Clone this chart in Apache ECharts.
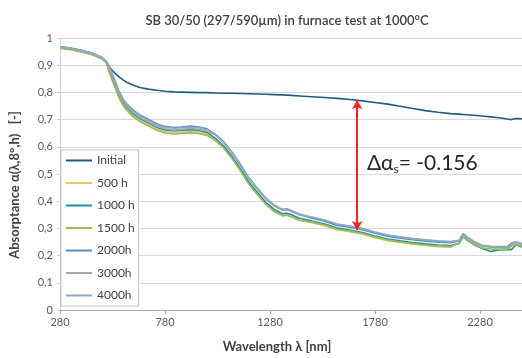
<!DOCTYPE html>
<html>
<head>
<meta charset="utf-8">
<script src="https://cdn.jsdelivr.net/npm/echarts@6/dist/echarts.min.js"></script>
<style>
  html, body { margin: 0; padding: 0; background: #fff; }
  #chart { width: 522px; height: 358px; }
</style>
</head>
<body>
<div id="chart"></div>
<script>
// wavelength [nm]
const wavelengths = [280, 330, 380, 430, 480, 500, 520, 540, 560, 580, 600, 630, 660, 700, 740, 780, 820, 860, 900, 940, 980,
  1020, 1060, 1100, 1140, 1180, 1220, 1260, 1300, 1340, 1360, 1380, 1420,
  1480, 1540, 1600, 1660, 1720, 1780, 1840, 1900, 1960, 2020, 2080, 2140,
  2180, 2200, 2220, 2250, 2290, 2330, 2370, 2410, 2430, 2450, 2480];

const initial = [0.968, 0.962, 0.955, 0.945, 0.928, 0.914, 0.888, 0.872, 0.858, 0.846, 0.836, 0.826, 0.818, 0.812, 0.808, 0.804, 0.802, 0.801, 0.800, 0.799, 0.799,
  0.798, 0.797, 0.797, 0.796, 0.795, 0.794, 0.793, 0.792, 0.791, 0.790, 0.789, 0.787,
  0.784, 0.781, 0.778, 0.774, 0.769, 0.763, 0.757, 0.749, 0.741, 0.733, 0.727, 0.722,
  0.720, 0.719, 0.718, 0.716, 0.713, 0.710, 0.707, 0.702, 0.700, 0.704, 0.703];

const h500 = [0.963, 0.958, 0.950, 0.940, 0.924, 0.910, 0.866, 0.826, 0.786, 0.756, 0.736, 0.714, 0.697, 0.681, 0.665, 0.655, 0.651, 0.653, 0.656, 0.653, 0.646,
  0.625, 0.597, 0.558, 0.513, 0.464, 0.426, 0.390, 0.364, 0.348, 0.350, 0.345, 0.331,
  0.321, 0.310, 0.295, 0.288, 0.279, 0.266, 0.255, 0.248, 0.242, 0.237, 0.233, 0.231,
  0.247, 0.272, 0.259, 0.244, 0.229, 0.225, 0.224, 0.225, 0.237, 0.242, 0.235];

const h1000 = [0.965, 0.960, 0.952, 0.942, 0.926, 0.912, 0.873, 0.833, 0.793, 0.763, 0.743, 0.721, 0.704, 0.688, 0.672, 0.662, 0.658, 0.660, 0.663, 0.660, 0.653,
  0.631, 0.603, 0.564, 0.519, 0.470, 0.432, 0.396, 0.370, 0.354, 0.356, 0.351, 0.337,
  0.327, 0.316, 0.301, 0.294, 0.285, 0.272, 0.261, 0.254, 0.248, 0.243, 0.239, 0.237,
  0.244, 0.269, 0.256, 0.241, 0.226, 0.215, 0.221, 0.222, 0.222, 0.239, 0.232];

const h1500 = [0.962, 0.957, 0.949, 0.939, 0.923, 0.909, 0.862, 0.822, 0.782, 0.752, 0.732, 0.710, 0.693, 0.677, 0.661, 0.651, 0.647, 0.649, 0.652, 0.649, 0.642,
  0.623, 0.595, 0.556, 0.511, 0.462, 0.424, 0.388, 0.362, 0.346, 0.348, 0.343, 0.329,
  0.323, 0.312, 0.297, 0.290, 0.281, 0.268, 0.257, 0.250, 0.244, 0.239, 0.235, 0.233,
  0.246, 0.271, 0.258, 0.243, 0.228, 0.224, 0.223, 0.224, 0.236, 0.241, 0.234];

const h2000 = [0.967, 0.962, 0.954, 0.944, 0.928, 0.914, 0.886, 0.846, 0.806, 0.776, 0.756, 0.734, 0.717, 0.701, 0.685, 0.675, 0.671, 0.673, 0.676, 0.673, 0.666,
  0.645, 0.617, 0.578, 0.533, 0.484, 0.446, 0.410, 0.384, 0.368, 0.370, 0.365, 0.351,
  0.337, 0.326, 0.311, 0.304, 0.295, 0.282, 0.271, 0.264, 0.258, 0.253, 0.249, 0.247,
  0.254, 0.279, 0.266, 0.251, 0.236, 0.232, 0.231, 0.232, 0.244, 0.249, 0.242];

const h3000 = [0.966, 0.961, 0.953, 0.943, 0.927, 0.913, 0.877, 0.837, 0.797, 0.767, 0.747, 0.725, 0.708, 0.692, 0.676, 0.666, 0.662, 0.664, 0.667, 0.664, 0.657,
  0.643, 0.615, 0.576, 0.531, 0.482, 0.444, 0.408, 0.382, 0.366, 0.368, 0.363, 0.349,
  0.342, 0.331, 0.316, 0.309, 0.300, 0.287, 0.276, 0.269, 0.263, 0.258, 0.254, 0.252,
  0.256, 0.281, 0.268, 0.253, 0.238, 0.234, 0.233, 0.234, 0.246, 0.251, 0.244];

const h4000 = [0.968, 0.963, 0.955, 0.945, 0.929, 0.915, 0.883, 0.843, 0.803, 0.773, 0.753, 0.731, 0.714, 0.698, 0.682, 0.672, 0.668, 0.670, 0.673, 0.670, 0.663,
  0.647, 0.619, 0.580, 0.535, 0.486, 0.448, 0.412, 0.386, 0.370, 0.372, 0.367, 0.353,
  0.341, 0.330, 0.315, 0.308, 0.299, 0.286, 0.275, 0.268, 0.262, 0.257, 0.253, 0.251,
  0.255, 0.280, 0.267, 0.252, 0.237, 0.233, 0.232, 0.233, 0.245, 0.250, 0.243];

const seriesNames = ["Initial", "500 h", "1000 h", "1500 h", "2000h", "3000h", "4000h"];
const seriesValues = [initial, h500, h1000, h1500, h2000, h3000, h4000];
const colors = ["#1d5e7e", "#e5c95b", "#1b93a5", "#9dbb55", "#5a8abb", "#a6a6a6", "#8ba8c9"];

const yTickLabels = ["0", "0,1", "0,2", "0,3", "0,4", "0,5", "0,6", "0,7", "0,8", "0,9", "1"];

// delta arrow (wavelength, top, bottom)
const arrowX = 1695;
const arrowTop = 0.771;
const arrowBottom = 0.294;

const font = "Lato";
let chart = echarts.init(document.getElementById("chart"));

let series = seriesNames.map(function (name, i) {
  return {
    name: name,
    type: "line",
    symbol: "none",
    color: colors[i],
    lineStyle: { width: 1.6 },
    animation: false,
    data: wavelengths.map(function (w, j) {
      return [w, seriesValues[i][j]];
    }),
  };
});

series.push({
  type: "line",
  data: [],
  silent: true,
  markLine: {
    silent: true,
    animation: false,
    symbol: ["arrow", "arrow"],
    symbolSize: [8, 9],
    label: { show: false },
    lineStyle: { color: "#ff2020", width: 2, type: "solid" },
    data: [[{ coord: [arrowX, arrowTop] }, { coord: [arrowX, arrowBottom] }]],
  },
});

let option = {
  animation: false,
  textStyle: { fontFamily: font },
  title: {
    text: "SB 30/50 (297/590µm) in furnace test at 1000°C",
    left: 282,
    top: 9,
    textAlign: "center",
    textStyle: { fontSize: 13, fontWeight: 600, color: "#404040", fontFamily: font },
  },
  grid: { left: 60, right: 0, top: 38, bottom: 48 },
  legend: {
    orient: "vertical",
    left: 61,
    top: 150,
    icon: "rect",
    itemWidth: 26,
    itemHeight: 2,
    itemGap: 10.5,
    padding: [4.5, 4, 4.5, 5],
    backgroundColor: "#fff",
    borderColor: "#c4c4c4",
    borderWidth: 1,
    borderRadius: 0,
    textStyle: { fontSize: 12, color: "#404040", fontFamily: font },
    data: seriesNames,
  },
  xAxis: {
    type: "value",
    min: 280,
    max: 2480,
    interval: 500,
    axisLine: { show: true, lineStyle: { color: "#a6a6a6" } },
    axisTick: { show: true, length: 4, lineStyle: { color: "#a6a6a6" } },
    axisLabel: {
      fontSize: 11,
      color: "#595959",
      margin: 7,
      showMaxLabel: false,
      formatter: function (v) {
        return String(v);
      },
    },
    splitLine: { show: false },
  },
  yAxis: {
    type: "value",
    min: 0,
    max: 1,
    interval: 0.1,
    axisLine: { show: true, lineStyle: { color: "#d0d0d0" } },
    axisTick: { show: true, length: 3, lineStyle: { color: "#d0d0d0" } },
    axisLabel: {
      fontSize: 11,
      color: "#595959",
      margin: 7,
      formatter: function (v) {
        return yTickLabels[Math.round(v * 10)];
      },
    },
    splitLine: { lineStyle: { color: "#d9d9d9", width: 1 } },
  },
  graphic: [
    {
      type: "text",
      x: 15,
      y: 185,
      rotation: Math.PI / 2,
      style: {
        text: "Absorptance α(λ,8°,h)   [-]",
        font: "bold 13px " + font,
        fill: "#404040",
        align: "center",
        verticalAlign: "middle",
      },
    },
    {
      type: "text",
      x: 277,
      y: 347,
      style: {
        text: "Wavelength λ [nm]",
        font: "bold 13px " + font,
        fill: "#404040",
        align: "center",
        verticalAlign: "middle",
      },
    },
    {
      type: "text",
      x: 367,
      y: 152,
      style: {
        text: "{a|Δα}{s|s}{a|= -0.156}",
        fill: "#262626",
        rich: {
          a: { fontSize: 21, fontFamily: font, fill: "#262626" },
          s: { fontSize: 12, fontFamily: font, fill: "#262626", padding: [11, 0, 0, 0] },
        },
      },
    },
  ],
  series: series,
};

option && chart.setOption(option);
</script>
</body>
</html>
